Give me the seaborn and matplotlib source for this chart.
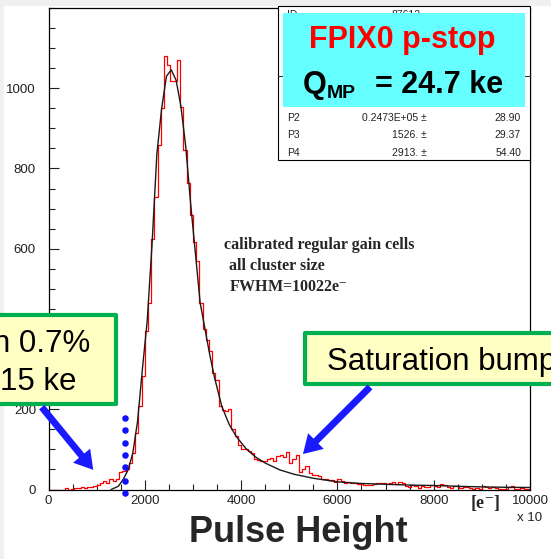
import numpy as np
import pandas as pd
import matplotlib
matplotlib.use("Agg")
import matplotlib.pyplot as plt
import seaborn as sns
from matplotlib.patches import Rectangle, FancyArrowPatch
from matplotlib.ticker import MultipleLocator
from matplotlib.transforms import IdentityTransform

# ---------------- data ----------------
bin_low, bin_high, n_bins = 0, 10000, 150
counts = [
    0, 0, 0, 0, 0, 3, 0, 1, 4, 4,
    5, 4, 6, 7, 8, 12, 17, 21, 17, 25,
    21, 27, 43, 46, 50, 67, 91, 141, 207, 282,
    394, 465, 624, 730, 859, 951, 1081, 1059, 1017, 1017,
    1071, 954, 847, 764, 685, 618, 569, 465, 400, 372,
    345, 291, 274, 208, 199, 195, 200, 150, 133, 110,
    102, 100, 96, 91, 76, 73, 70, 72, 76, 79,
    72, 83, 85, 80, 94, 66, 75, 87, 43, 52,
    58, 42, 37, 37, 33, 27, 27, 23, 24, 18,
    26, 22, 17, 19, 17, 16, 14, 13, 12, 10,
    12, 14, 15, 17, 15, 13, 17, 18, 13, 18,
    16, 9, 5, 12, 8, 3, 8, 7, 7, 10,
    8, 7, 14, 10, 7, 3, 9, 9, 4, 5,
    6, 3, 2, 3, 2, 9, 5, 4, 7, 3,
    2, 2, 2, 5, 8, 2, 2, 3, 1, 1,
]
fit_x = [1300, 1450, 1550, 1650, 1750, 1850, 1950, 2050, 2150, 2250,
         2350, 2450, 2550, 2650, 2750, 2850, 2950, 3050, 3150, 3250,
         3350, 3450, 3600, 3750, 3900, 4100, 4300, 4500, 4800, 5100,
         5500, 6000, 6500, 7000, 7500, 8000, 8500, 9000, 9500, 10000]
fit_y = [0, 8, 25, 48, 90, 170, 300, 420, 610, 835,
         950, 1030, 1046, 1020, 955, 855, 715, 590, 465, 400,
         335, 278, 207, 163, 132, 102, 81, 66, 49, 38,
         28, 19, 15, 13, 11, 10, 8, 6.5, 5.5, 5]
x_ticks = [0, 2000, 4000, 6000, 8000, 10000]
x_tick_labels = ["0", "2000", "4000", "6000", "8000", "10000"]
y_ticks = [0, 200, 400, 600, 800, 1000]
y_tick_labels = ["0", "200", "400", "600", "800", "1000"]
stat_names = ["P2", "P3", "P4"]
stat_values = ["0.2473E+05 \u00b1", "1526. \u00b1", "2913. \u00b1"]
stat_errors = ["28.90", "29.37", "54.40"]
threshold_x = 1590
threshold_dots_y = [179, 149, 115, 85, 55, 22, -8]

# ---------------- style ----------------
sns.set_theme(style="white")
plt.rcParams["font.family"] = ["Liberation Sans", "DejaVu Sans"]
plt.rcParams["mathtext.fontset"] = "stix"

W, H = 551, 559
fig = plt.figure(figsize=(W / 100, H / 100), dpi=100)
fig.patch.set_facecolor("#f0f0f0")
fig.patches.append(Rectangle((4 / W, 0), 1, 1 - 6 / H, transform=fig.transFigure,
                             facecolor="white", edgecolor="none", zorder=-10))


def ft(px, py, s, **kw):
    return fig.text(px / W, 1 - py / H, s, **kw)


def frect(x0, y0, x1, y1, **kw):
    r = Rectangle((x0 / W, 1 - y1 / H), (x1 - x0) / W, (y1 - y0) / H,
                  transform=fig.transFigure, **kw)
    fig.patches.append(r)
    return r


ax = fig.add_axes([48.5 / W, 1 - 489.5 / H, (530 - 48.5) / W, (489.5 - 8) / H])
ax.set_facecolor("white")

bin_width = (bin_high - bin_low) / n_bins
centers = [bin_low + bin_width * (i + 0.5) for i in range(n_bins)]
df = pd.DataFrame({"pulse": centers, "count": counts})
sns.histplot(data=df, x="pulse", weights="count", bins=n_bins,
             binrange=(bin_low, bin_high), element="step",
             fill=False, color="#ff0000", linewidth=0.9, ax=ax)
sns.lineplot(x=fit_x, y=fit_y, color="#1a1a1a", linewidth=1.0, ax=ax)

ax.set_xlim(0, 10000)
ax.set_ylim(0, 1200)
ax.set_xlabel("")
ax.set_ylabel("")
ax.set_xticks(x_ticks)
ax.set_xticklabels(x_tick_labels)
ax.set_yticks(y_ticks)
ax.set_yticklabels(y_tick_labels)
# the "400" label lies under the left callout box in the reference
for lbl in ax.get_yticklabels():
    if lbl.get_text() == "400":
        lbl.set_visible(False)
ax.xaxis.set_minor_locator(MultipleLocator(500))
ax.yaxis.set_minor_locator(MultipleLocator(50))
ax.tick_params(which="both", direction="in", bottom=True, left=True, top=False,
               right=False, color="#222222", width=0.8)
ax.tick_params(which="major", length=7, labelsize=9.5, labelcolor="#222222")
ax.tick_params(which="minor", length=4)
ax.tick_params(axis="x", pad=4)
ax.tick_params(axis="y", pad=9)
for sp in ax.spines.values():
    sp.set_color("black")
    sp.set_linewidth(0.9)

# threshold dots
ax.scatter([threshold_x] * len(threshold_dots_y), threshold_dots_y, s=22,
           color="#1010ff", clip_on=False, zorder=6, linewidths=0)

# axis texts
ft(530, 518, "x 10", ha="center", va="center", fontsize=9.5, color="#222222")
ft(485, 503, "[e$^{-}$]", ha="center", va="center", fontsize=13,
   family="Liberation Serif", fontweight="bold")
ft(298, 532, "Pulse Height", ha="center", va="center", fontsize=26,
   fontweight="bold")

# annotation text inside plot
serif = dict(family="Liberation Serif", fontweight="bold", fontsize=11.5,
             ha="left", va="center")
ft(224, 245, "calibrated regular gain cells", **serif)
ft(229, 266, "all cluster size", **serif)
ft(229, 287, "FWHM=10022e$^{-}$", **serif)

# stats box
frect(277.5, 6, 530, 160, facecolor="white", edgecolor="black", lw=0.8, zorder=3)
fig.add_artist(plt.Line2D([277.5 / W, 530 / W], [1 - 76 / H, 1 - 76 / H],
                          transform=fig.transFigure, color="#333333", lw=0.8,
                          zorder=3.2))
ft(287, 18, "ID", fontsize=7.5, va="baseline", color="#222222", zorder=3.5)
ft(421, 18, "87612", fontsize=7.5, va="baseline", ha="right", color="#222222",
   zorder=3.5)
row_y = [121, 138, 155.5]
for name, val, err, yy in zip(stat_names, stat_values, stat_errors, row_y):
    ft(287, yy, name, fontsize=7.5, va="baseline", ha="left", color="#222222", zorder=3.5)
    ft(427, yy, val, fontsize=7.5, va="baseline", ha="right", color="#222222", zorder=3.5)
    ft(521, yy, err, fontsize=7.5, va="baseline", ha="right", color="#222222", zorder=3.5)

frect(283.3, 13.3, 525, 107.3, facecolor="#66ffff", edgecolor="none", zorder=4)
ft(402.5, 48.3, "FPIX0 p-stop", ha="center", va="baseline", fontsize=22,
   fontweight="bold", color="#ff0000", zorder=5)
ft(303, 93, "Q", ha="left", va="baseline", fontsize=22, fontweight="bold",
   color="black", zorder=5)
ft(326.5, 98, "MP", ha="left", va="baseline", fontsize=14, fontweight="bold",
   color="black", zorder=5)
ft(503.5, 93, "= 24.7 ke", ha="right", va="baseline", fontsize=22,
   fontweight="bold", color="black", zorder=5)

# callouts
frect(-20, 315, 116, 404, facecolor="#ffffc4", edgecolor="#00b050", lw=3,
      zorder=6, joinstyle="round")
ft(90, 351.5, "n 0.7%", ha="right", va="baseline", fontsize=22.5,
   color="black", zorder=7)
ft(76, 390, "15 ke", ha="right", va="baseline", fontsize=22.5,
   color="black", zorder=7)

frect(305, 333, 575, 384, facecolor="#ffffc4", edgecolor="#00b050", lw=3,
      zorder=6, joinstyle="round")
ft(327, 370, "Saturation bump", ha="left", va="baseline", fontsize=22.5,
   color="black", zorder=7)

# arrows (display pixels)
arrow_kw = dict(arrowstyle="simple,head_length=1.2,head_width=1.45,tail_width=0.45",
                mutation_scale=11, color="#1a1aff", transform=IdentityTransform(),
                zorder=8, linewidth=0)
fig.add_artist(FancyArrowPatch((40, H - 405), (95, H - 472), **arrow_kw))
fig.add_artist(FancyArrowPatch((372, H - 385), (301, H - 456), **arrow_kw))

fig.savefig("out.png", dpi=100, facecolor=fig.get_facecolor())
